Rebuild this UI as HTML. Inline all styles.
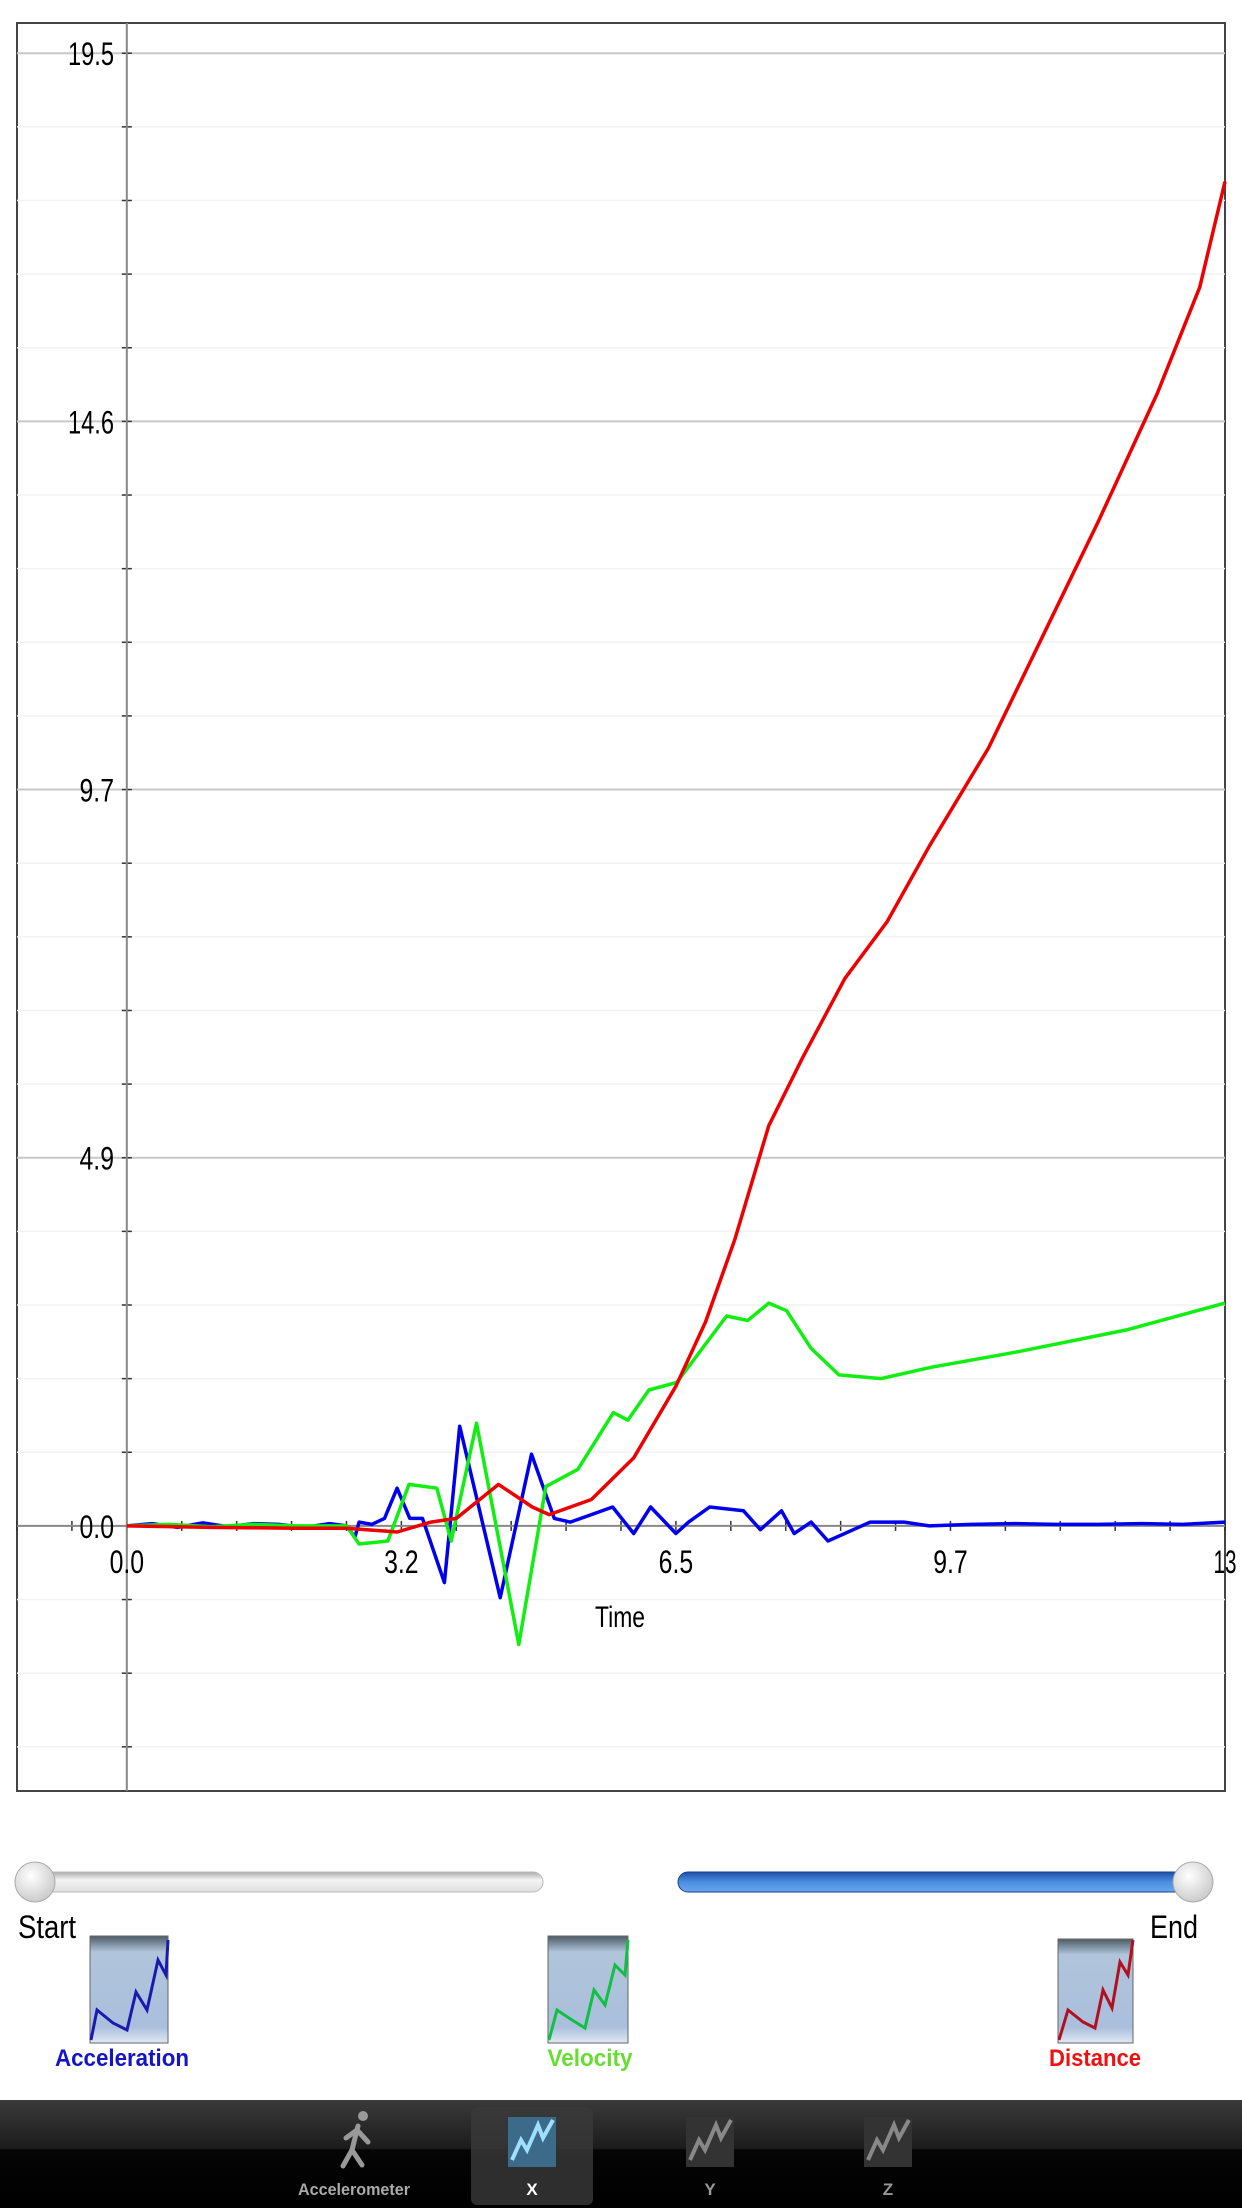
<!DOCTYPE html>
<html><head><meta charset="utf-8"><style>
html,body{margin:0;padding:0;background:#fff;width:1242px;height:2208px;overflow:hidden}
svg{display:block}
text{font-family:"Liberation Sans",sans-serif}
</style></head><body>
<svg id="root" width="1242" height="2208" viewBox="0 0 1242 2208" xmlns="http://www.w3.org/2000/svg">
<defs>
<linearGradient id="tab" x1="0" y1="0" x2="0" y2="1"><stop offset="0" stop-color="#3a3a3a"/><stop offset="0.45" stop-color="#1c1c1c"/><stop offset="0.46" stop-color="#050505"/><stop offset="1" stop-color="#000"/></linearGradient>
<linearGradient id="trk" x1="0" y1="0" x2="0" y2="1"><stop offset="0" stop-color="#aaa"/><stop offset="0.4" stop-color="#f4f4f4"/><stop offset="1" stop-color="#ddd"/></linearGradient>
<linearGradient id="blu" x1="0" y1="0" x2="0" y2="1"><stop offset="0" stop-color="#1d4fa8"/><stop offset="0.5" stop-color="#4c8ee0"/><stop offset="1" stop-color="#6aa6ef"/></linearGradient>
<radialGradient id="thumb" cx="0.4" cy="0.35" r="0.7"><stop offset="0" stop-color="#fff"/><stop offset="1" stop-color="#c8c8c8"/></radialGradient>
<linearGradient id="ic" x1="0" y1="0" x2="0" y2="1"><stop offset="0" stop-color="#4c5c66"/><stop offset="0.15" stop-color="#b0c4da"/><stop offset="0.85" stop-color="#aabfdc"/><stop offset="1" stop-color="#e0e8f4"/></linearGradient>
</defs>
<g id="chart">
<rect x="17" y="23" width="1208" height="1768" fill="#fff" stroke="#444" stroke-width="2"/>
<g id="grid"></g><g id="axes"></g><g id="series"></g>
</g>
<g>
<rect x="20" y="1872" width="523" height="20" rx="10" fill="url(#trk)" stroke="#bbb"/>
<circle cx="35" cy="1882" r="20" fill="url(#thumb)" stroke="#aaa"/>
</g>
<g>
<rect x="678" y="1872" width="520" height="20" rx="10" fill="url(#blu)" stroke="#1a3f8a"/>
<circle cx="1193" cy="1882" r="20" fill="url(#thumb)" stroke="#aaa"/>
</g>
<text x="18" y="1938" font-size="32" textLength="58" lengthAdjust="spacingAndGlyphs">Start</text>
<text x="1150" y="1938" font-size="32" textLength="48" lengthAdjust="spacingAndGlyphs">End</text>
<g>
<rect x="90" y="1936" width="78" height="107" fill="url(#ic)" stroke="#666"/>
<polyline points="91,2040 97,2010 113,2023 127,2030 136,1992 147,2010 158,1960 166,1975 168,1940" fill="none" stroke="#1a1ab0" stroke-width="3"/>
<text x="122" y="2066" font-size="24" font-weight="bold" fill="#1414c8" text-anchor="middle" textLength="134" lengthAdjust="spacingAndGlyphs">Acceleration</text>
</g>
<g>
<rect x="548" y="1936" width="80" height="107" fill="url(#ic)" stroke="#666"/>
<polyline points="549,2040 557,2010 572,2020 585,2028 594,1990 605,2005 615,1965 625,1975 628,1940" fill="none" stroke="#10c040" stroke-width="3"/>
<text x="590" y="2066" font-size="24" font-weight="bold" fill="#66dd33" text-anchor="middle" textLength="85" lengthAdjust="spacingAndGlyphs">Velocity</text>
</g>
<g>
<rect x="1058" y="1939" width="75" height="104" fill="url(#ic)" stroke="#666"/>
<polyline points="1059,2040 1068,2010 1083,2022 1095,2028 1103,1990 1112,2008 1120,1962 1128,1975 1133,1940" fill="none" stroke="#b01020" stroke-width="3"/>
<text x="1095" y="2066" font-size="24" font-weight="bold" fill="#ee1111" text-anchor="middle" textLength="92" lengthAdjust="spacingAndGlyphs">Distance</text>
</g>
<g>
<rect x="0" y="2100" width="1242" height="108" fill="url(#tab)"/>
<rect x="471" y="2107" width="122" height="98" rx="6" fill="#3a3a3a" opacity="0.8"/>
<g>
<g fill="#999" stroke="#999" stroke-width="5" stroke-linecap="round"><circle cx="363" cy="2116" r="5" stroke="none"/><line x1="358" y1="2126" x2="352" y2="2150"/><line x1="352" y1="2150" x2="362" y2="2165"/><line x1="352" y1="2150" x2="343" y2="2166"/><line x1="357" y1="2130" x2="368" y2="2142"/><line x1="357" y1="2130" x2="346" y2="2138"/></g>
<text x="354" y="2195" font-size="17" font-weight="bold" fill="#aaa" text-anchor="middle" textLength="112" lengthAdjust="spacingAndGlyphs">Accelerometer</text>
</g>
<g>
<rect x="508" y="2117" width="48" height="50" fill="#3b6b88"/>
<polyline points="512,2160 521,2140 527,2150 538,2125 543,2138 553,2120" fill="none" stroke="#9fe0ff" stroke-width="4"/>
<text x="532" y="2195" font-size="17" font-weight="bold" fill="#fff" text-anchor="middle">X</text>
</g>
<g>
<rect x="686" y="2117" width="48" height="50" fill="#333"/>
<polyline points="690,2160 699,2140 705,2150 716,2125 721,2138 731,2120" fill="none" stroke="#888" stroke-width="4"/>
<text x="710" y="2195" font-size="17" font-weight="bold" fill="#999" text-anchor="middle">Y</text>
</g>
<g>
<rect x="864" y="2117" width="48" height="50" fill="#333"/>
<polyline points="868,2160 877,2140 883,2150 894,2125 899,2138 909,2120" fill="none" stroke="#888" stroke-width="4"/>
<text x="888" y="2195" font-size="17" font-weight="bold" fill="#999" text-anchor="middle">Z</text>
</g>
</g>
</svg>
<script>
const yTickLabels = ["0.0", "4.9", "9.7", "14.6", "19.5"];
const xTickLabels = ["0.0", "3.2", "6.5", "9.7", "13"];
const distT = [0,1,2,2.6,3.2,3.6,3.9,4.4,4.8,5.0,5.5,6.0,6.5,6.85,7.2,7.6,8.0,8.5,9.0,9.5,10.2,10.85,11.5,12.2,12.7,13.0];
const distV = [0,-0.02,-0.03,-0.03,-0.08,0.05,0.1,0.55,0.25,0.15,0.35,0.9,1.85,2.7,3.8,5.3,6.2,7.25,8.0,9.0,10.3,11.8,13.3,15.0,16.4,17.8];
const velT = [0,0.5,1,1.5,2,2.6,2.75,3.09,3.34,3.67,3.84,4.14,4.64,4.96,5.34,5.76,5.93,6.18,6.51,7.1,7.35,7.6,7.81,8.1,8.43,8.93,9.52,10.52,11.85,13];
const velV = [0,0.02,-0.01,0.02,0,0,-0.24,-0.2,0.55,0.5,-0.2,1.36,-1.57,0.52,0.75,1.5,1.4,1.8,1.9,2.78,2.72,2.95,2.85,2.35,2.0,1.95,2.1,2.3,2.6,2.95];
const accT = [0,0.3,0.6,0.9,1.2,1.5,1.8,2.1,2.4,2.6,2.7,2.75,2.9,3.05,3.2,3.35,3.5,3.76,3.94,4.42,4.79,5.06,5.25,5.5,5.75,6.0,6.2,6.5,6.65,6.9,7.3,7.5,7.75,7.9,8.1,8.3,8.6,8.8,9.2,9.5,10,10.5,11,11.5,12,12.5,13];
const accV = [0,0.03,-0.02,0.04,-0.01,0.03,0.02,-0.02,0.03,0,-0.15,0.05,0.02,0.1,0.5,0.1,0.1,-0.75,1.32,-0.95,0.95,0.1,0.05,0.15,0.25,-0.1,0.25,-0.1,0.05,0.25,0.2,-0.05,0.2,-0.1,0.05,-0.2,-0.05,0.05,0.05,0,0.02,0.03,0.02,0.02,0.03,0.02,0.05];

const NS = "http://www.w3.org/2000/svg";
const xMin = -1.3, xMax = 13, yMin = -3.51, yMax = 19.9;
const X0 = 17, X1 = 1225, Y0 = 1791, Y1 = 23;
const sx = v => X0 + (v - xMin) / (xMax - xMin) * (X1 - X0);
const sy = v => Y0 - (v - yMin) / (yMax - yMin) * (Y0 - Y1);
function mk(tag, attrs, parent) { const e = document.createElementNS(NS, tag); for (const k in attrs) e.setAttribute(k, attrs[k]); parent.appendChild(e); return e; }
const grid = document.getElementById('grid'), axes = document.getElementById('axes'), series = document.getElementById('series');
const yStep = 19.5 / 20, xStep = 13 / 20;
for (let i = -3; i <= 20; i++) {
  const v = i * yStep, y = sy(v);
  const major = i % 5 === 0;
  if (i !== 0) mk('line', {x1: X0, x2: X1, y1: y, y2: y, stroke: major ? '#c8c8c8' : '#f2f2f2', 'stroke-width': major ? 2 : 1.5}, grid);
  mk('line', {x1: sx(0) - 5, x2: sx(0) + 5, y1: y, y2: y, stroke: '#333', 'stroke-width': 1.5}, axes);
}
for (let i = -2; i <= 20; i++) {
  const x = sx(i * xStep);
  mk('line', {x1: x, x2: x, y1: sy(0) - 5, y2: sy(0) + 5, stroke: '#333', 'stroke-width': 1.5}, axes);
}
mk('line', {x1: sx(0), x2: sx(0), y1: Y1, y2: Y0, stroke: '#888', 'stroke-width': 2}, axes);
mk('line', {x1: X0, x2: X1, y1: sy(0), y2: sy(0), stroke: '#888', 'stroke-width': 2}, axes);
yTickLabels.forEach((lab, i) => {
  const t = mk('text', {x: 114, y: sy(i * 5 * yStep) + 12, 'font-size': 32, 'text-anchor': 'end', textLength: lab.length * 11.5, lengthAdjust: 'spacingAndGlyphs'}, axes);
  
  
  t.textContent = lab;
});
xTickLabels.forEach((lab, i) => {
  const t = mk('text', {x: sx(i * 5 * xStep), y: sy(0) + 47, 'font-size': 32, 'text-anchor': 'middle', textLength: lab.length * 11.5, lengthAdjust: 'spacingAndGlyphs'}, axes);
  
  
  t.textContent = lab;
});
const xt = mk('text', {x: 620, y: 1627, 'font-size': 30, 'text-anchor': 'middle', textLength: 50, lengthAdjust: 'spacingAndGlyphs'}, axes);


xt.textContent = 'Time';
function line(ts, vs, color, name) {
  const p = mk('polyline', {points: ts.map((t, i) => sx(t).toFixed(1) + ',' + sy(vs[i]).toFixed(1)).join(' '), fill: 'none', stroke: color, 'stroke-width': 3.5, 'stroke-linejoin': 'round'}, series);
  
  
}
line(accT, accV, '#0000ee', 'acceleration-line');
line(velT, velV, '#11ee11', 'velocity-line');
line(distT, distV, '#ee0000', 'distance-line');
</script>
</body></html>
